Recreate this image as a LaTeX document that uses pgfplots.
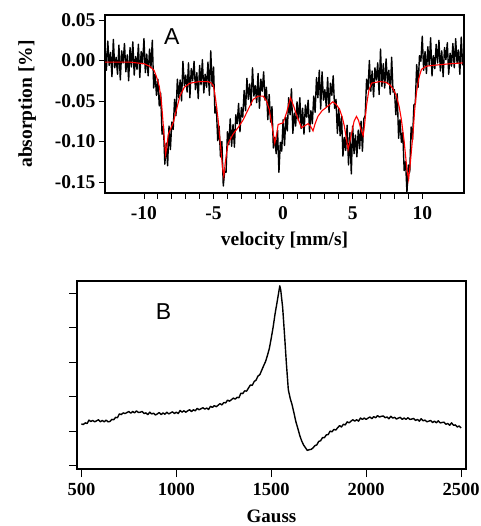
\documentclass[border=0pt]{standalone}
\usepackage{pgfplots}
\pgfplotsset{compat=1.18}
\usepackage{fontspec}
\setmainfont{Liberation Serif}
\newfontfamily\arialfont{Liberation Sans}

\pgfplotstableread{
x y
-12.8 0.018
-12.7 -0.012
-12.6 0.024
-12.5 -0.006
-12.4 0.010
-12.3 -0.020
-12.2 0.026
-12.1 -0.009
-12.0 0.004
-11.9 -0.017
-11.8 0.019
-11.7 -0.024
-11.6 0.012
-11.5 -0.003
-11.4 0.021
-11.3 -0.014
-11.2 0.007
-11.1 -0.025
-11.0 0.016
-10.9 -0.008
-10.8 0.023
-10.7 -0.018
-10.6 0.005
-10.5 -0.011
-10.4 0.020
-10.3 -0.021
-10.2 0.011
-10.1 -0.004
-10.0 0.027
-9.9 -0.015
-9.8 0.008
-9.7 -0.019
-9.6 0.014
-9.5 -0.009
-9.4 0.025
-9.3 -0.034
-9.2 -0.017
-9.1 -0.043
-9.0 -0.023
-8.9 -0.056
-8.8 -0.040
-8.7 -0.091
-8.6 -0.081
-8.5 -0.128
-8.4 -0.102
-8.3 -0.130
-8.2 -0.081
-8.1 -0.110
-8.0 -0.076
-7.9 -0.085
-7.8 -0.048
-7.7 -0.068
-7.6 -0.023
-7.5 -0.046
-7.4 -0.024
-7.3 -0.050
-7.2 -0.001
-7.1 -0.031
-7.0 -0.018
-6.9 -0.039
-6.8 -0.003
-6.7 -0.046
-6.6 -0.010
-6.5 -0.025
-6.4 -0.001
-6.3 -0.036
-6.2 -0.015
-6.1 -0.047
-6.0 -0.006
-5.9 -0.030
-5.8 0.001
-5.7 -0.040
-5.6 -0.017
-5.5 -0.033
-5.4 -0.002
-5.3 -0.043
-5.2 0.012
-5.1 -0.032
-5.0 -0.008
-4.9 -0.065
-4.8 -0.057
-4.7 -0.099
-4.6 -0.081
-4.5 -0.119
-4.4 -0.100
-4.3 -0.155
-4.2 -0.137
-4.1 -0.138
-4.0 -0.088
-3.9 -0.104
-3.8 -0.072
-3.7 -0.106
-3.6 -0.079
-3.5 -0.107
-3.4 -0.067
-3.3 -0.078
-3.2 -0.053
-3.1 -0.088
-3.0 -0.058
-2.9 -0.070
-2.8 -0.037
-2.7 -0.062
-2.6 -0.022
-2.5 -0.048
-2.4 -0.029
-2.3 -0.055
-2.2 -0.009
-2.1 -0.044
-2.0 -0.031
-1.9 -0.052
-1.8 -0.016
-1.7 -0.059
-1.6 -0.023
-1.5 -0.038
-1.4 -0.014
-1.3 -0.049
-1.2 -0.033
-1.1 -0.073
-1.0 -0.042
-0.9 -0.076
-0.8 -0.057
-0.7 -0.108
-0.6 -0.095
-0.5 -0.115
-0.4 -0.086
-0.3 -0.138
-0.2 -0.101
-0.1 -0.112
0.0 -0.073
0.1 -0.105
0.2 -0.070
0.3 -0.087
0.4 -0.046
0.5 -0.067
0.6 -0.035
0.7 -0.090
0.8 -0.065
0.9 -0.081
1.0 -0.051
1.1 -0.074
1.2 -0.046
1.3 -0.084
1.4 -0.059
1.5 -0.091
1.6 -0.055
1.7 -0.070
1.8 -0.049
1.9 -0.088
2.0 -0.062
2.1 -0.078
2.2 -0.044
2.3 -0.064
2.4 -0.021
2.5 -0.046
2.6 -0.012
2.7 -0.060
2.8 -0.014
2.9 -0.049
3.0 -0.036
3.1 -0.057
3.2 -0.021
3.3 -0.064
3.4 -0.028
3.5 -0.043
3.6 -0.019
3.7 -0.059
3.8 -0.048
3.9 -0.090
4.0 -0.059
4.1 -0.093
4.2 -0.069
4.3 -0.118
4.4 -0.095
4.5 -0.111
4.6 -0.080
4.7 -0.129
4.8 -0.089
4.9 -0.140
5.0 -0.081
5.1 -0.115
5.2 -0.092
5.3 -0.119
5.4 -0.086
5.5 -0.109
5.6 -0.075
5.7 -0.112
5.8 -0.072
5.9 -0.068
6.0 -0.023
6.1 -0.036
6.2 0.000
6.3 -0.038
6.4 -0.013
6.5 -0.045
6.6 -0.009
6.7 -0.024
6.8 -0.003
6.9 -0.042
7.0 0.014
7.1 -0.032
7.2 -0.004
7.3 -0.034
7.4 0.002
7.5 -0.028
7.6 -0.012
7.7 -0.042
7.8 0.004
7.9 -0.039
8.0 -0.036
8.1 -0.067
8.2 -0.041
8.3 -0.096
8.4 -0.073
8.5 -0.101
8.6 -0.089
8.7 -0.136
8.8 -0.125
8.9 -0.163
9.0 -0.129
9.1 -0.138
9.2 -0.082
9.3 -0.098
9.4 -0.055
9.5 -0.053
9.6 -0.005
9.7 -0.033
9.8 0.006
9.9 -0.001
10.0 0.030
10.1 -0.012
10.2 0.011
10.3 -0.016
10.4 0.017
10.5 -0.006
10.6 0.028
10.7 -0.019
10.8 0.006
10.9 -0.010
11.0 0.020
11.1 -0.003
11.2 0.025
11.3 -0.013
11.4 0.012
11.5 -0.020
11.6 0.016
11.7 0.001
11.8 0.022
11.9 -0.017
12.0 0.009
12.1 -0.007
12.2 0.021
12.3 -0.009
12.4 0.027
12.5 -0.003
12.6 0.013
12.7 -0.017
12.8 0.029
12.9 -0.006
}\mossdata

\pgfplotstableread{
x y
-12.8 -0.002
-11.0 -0.002
-10.0 -0.004
-9.6 -0.007
-9.28 -0.012
-9.1 -0.020
-8.9 -0.032
-8.75 -0.050
-8.66 -0.069
-8.55 -0.095
-8.44 -0.116
-8.35 -0.105
-8.25 -0.091
-7.9 -0.077
-7.65 -0.060
-7.42 -0.044
-7.1 -0.033
-6.7 -0.028
-6.0 -0.026
-5.4 -0.026
-5.15 -0.028
-5.0 -0.032
-4.85 -0.048
-4.67 -0.073
-4.5 -0.105
-4.35 -0.133
-4.26 -0.143
-4.15 -0.125
-3.95 -0.102
-3.6 -0.091
-3.2 -0.082
-2.86 -0.073
-2.5 -0.060
-2.15 -0.048
-1.8 -0.044
-1.43 -0.044
-1.2 -0.050
-1.0 -0.060
-0.8 -0.080
-0.6 -0.102
-0.45 -0.090
-0.36 -0.079
0.0 -0.077
0.24 -0.065
0.53 -0.046
0.75 -0.056
0.96 -0.067
1.32 -0.083
1.6 -0.080
1.8 -0.078
1.97 -0.081
2.15 -0.087
2.3 -0.078
2.5 -0.069
2.8 -0.062
3.1 -0.058
3.57 -0.051
3.8 -0.054
4.05 -0.060
4.25 -0.070
4.4 -0.081
4.55 -0.097
4.67 -0.110
4.8 -0.100
4.98 -0.085
5.1 -0.075
5.27 -0.069
5.42 -0.074
5.56 -0.083
5.75 -0.093
5.85 -0.080
5.99 -0.056
6.15 -0.038
6.35 -0.028
6.95 -0.026
7.4 -0.027
7.67 -0.030
7.9 -0.035
8.15 -0.044
8.35 -0.058
8.5 -0.073
8.7 -0.100
8.9 -0.135
9.02 -0.147
9.15 -0.125
9.34 -0.089
9.45 -0.062
9.58 -0.040
9.75 -0.022
9.94 -0.011
10.3 -0.007
10.78 -0.006
12.0 -0.004
12.9 -0.003
}\mossfit

\pgfplotstableread{
x y
500 1.21
510 1.19
520 1.24
530 1.22
540 1.32
550 1.28
560 1.31
570 1.27
580 1.30
590 1.33
600 1.27
610 1.31
620 1.27
630 1.32
640 1.27
650 1.28
660 1.34
670 1.33
680 1.40
690 1.39
700 1.50
710 1.48
720 1.53
730 1.51
740 1.54
750 1.57
760 1.52
770 1.57
780 1.53
790 1.59
800 1.54
810 1.55
820 1.57
830 1.51
840 1.53
850 1.48
860 1.55
870 1.50
880 1.52
890 1.47
900 1.50
910 1.54
920 1.48
930 1.53
940 1.49
950 1.55
960 1.50
970 1.53
980 1.56
990 1.51
1000 1.55
1010 1.51
1020 1.60
1030 1.55
1040 1.59
1050 1.55
1060 1.59
1070 1.62
1080 1.57
1090 1.62
1100 1.59
1110 1.66
1120 1.62
1130 1.65
1140 1.68
1150 1.64
1160 1.67
1170 1.63
1180 1.72
1190 1.69
1200 1.74
1210 1.71
1220 1.75
1230 1.80
1240 1.76
1250 1.83
1260 1.82
1270 1.90
1280 1.87
1290 1.91
1300 1.96
1310 1.93
1320 1.98
1330 1.97
1340 2.10
1350 2.09
1360 2.17
1370 2.16
1380 2.25
1390 2.34
1400 2.33
1410 2.44
1420 2.48
1430 2.60
1440 2.64
1450 2.77
1460 2.90
1470 3.02
1480 3.20
1490 3.40
1500 3.70
1510 4.02
1520 4.40
1530 4.72
1540 5.05
1545 5.22
1550 5.10
1560 4.60
1570 3.80
1580 2.95
1590 2.20
1600 1.95
1610 1.76
1620 1.52
1630 1.27
1640 1.08
1650 0.88
1660 0.72
1670 0.60
1680 0.52
1690 0.44
1700 0.46
1710 0.47
1720 0.51
1730 0.58
1740 0.60
1750 0.70
1760 0.72
1770 0.81
1780 0.81
1790 0.89
1800 0.90
1810 1.00
1820 0.98
1830 1.05
1840 1.03
1850 1.10
1860 1.16
1870 1.12
1880 1.20
1890 1.18
1900 1.27
1910 1.24
1920 1.29
1930 1.33
1940 1.29
1950 1.33
1960 1.29
1970 1.38
1980 1.34
1990 1.38
2000 1.34
2010 1.38
2020 1.41
2030 1.36
2040 1.42
2050 1.39
2060 1.45
2070 1.41
2080 1.43
2090 1.44
2100 1.39
2110 1.41
2120 1.36
2130 1.43
2140 1.38
2150 1.40
2160 1.35
2170 1.38
2180 1.40
2190 1.34
2200 1.38
2210 1.34
2220 1.39
2230 1.34
2240 1.35
2250 1.37
2260 1.31
2270 1.34
2280 1.29
2290 1.36
2300 1.30
2310 1.32
2320 1.27
2330 1.29
2340 1.31
2350 1.25
2360 1.29
2370 1.24
2380 1.30
2390 1.24
2400 1.25
2410 1.26
2420 1.20
2430 1.22
2440 1.17
2450 1.24
2460 1.17
2470 1.18
2480 1.12
2490 1.15
2500 1.09
}\eprdata

\begin{document}
\begin{tikzpicture}
\useasboundingbox (0,0) rectangle (480pt,526pt);
\begin{axis}[
  at={(105pt,333pt)}, anchor=south west,
  scale only axis, width=359pt, height=178pt,
  xmin=-12.8, xmax=13.0, ymin=-0.1636, ymax=0.0562,
  axis line style={line width=1.1pt},
  tick align=outside, xtick pos=bottom, ytick pos=left,
  xtick={-10,-5,0,5,10}, minor x tick num=4,
  ytick={-0.15,-0.10,-0.05,0,0.05},
  major tick length=6pt, minor tick length=6pt,
  every tick/.style={line width=0.9pt, black},
  scaled y ticks=false,
  yticklabel style={/pgf/number format/fixed, /pgf/number format/fixed zerofill, /pgf/number format/precision=2},
  xticklabel style={yshift=-4pt},
  /pgf/number format/assume math mode=true,
  tick label style={font=\fontsize{19.5}{19.5}\selectfont\bfseries},
  label style={font=\fontsize{19.5}{20}\selectfont\bfseries},
  xlabel={velocity [mm/s]}, ylabel={absorption [\%]},
  xlabel shift=5pt, ylabel shift=12pt,
]
\addplot[black, line width=1.4pt, line join=round] table {\mossdata};
\addplot[red, line width=1.1pt] table {\mossfit};
\node[font=\arialfont\fontsize{23}{23}\selectfont] at (axis cs:-8.0,0.030) {A};
\end{axis}
\begin{axis}[
  at={(77pt,57pt)}, anchor=south west,
  scale only axis, width=389pt, height=188pt,
  xmin=476.8, xmax=2526, ymin=-0.10, ymax=5.36,
  axis line style={line width=1.1pt},
  tick align=outside, xtick pos=bottom, ytick pos=left,
  xtick={500,1000,1500,2000,2500},
  ytick={0,1,2,3,4,5}, yticklabels={},
  major tick length=8pt,
  every tick/.style={line width=0.9pt, black},
  /pgf/number format/assume math mode=true,
  /pgf/number format/set thousands separator={},
  xticklabel style={yshift=-3pt},
  tick label style={font=\fontsize{18.5}{19}\selectfont\bfseries},
  label style={font=\fontsize{19}{20}\selectfont\bfseries},
  xlabel={Gauss}, xlabel shift=7pt,
]
\addplot[black, line width=1.4pt, line join=round] table {\eprdata};
\node[font=\arialfont\fontsize{23}{23}\selectfont] at (axis cs:933,4.47) {B};
\end{axis}
\end{tikzpicture}
\end{document}
